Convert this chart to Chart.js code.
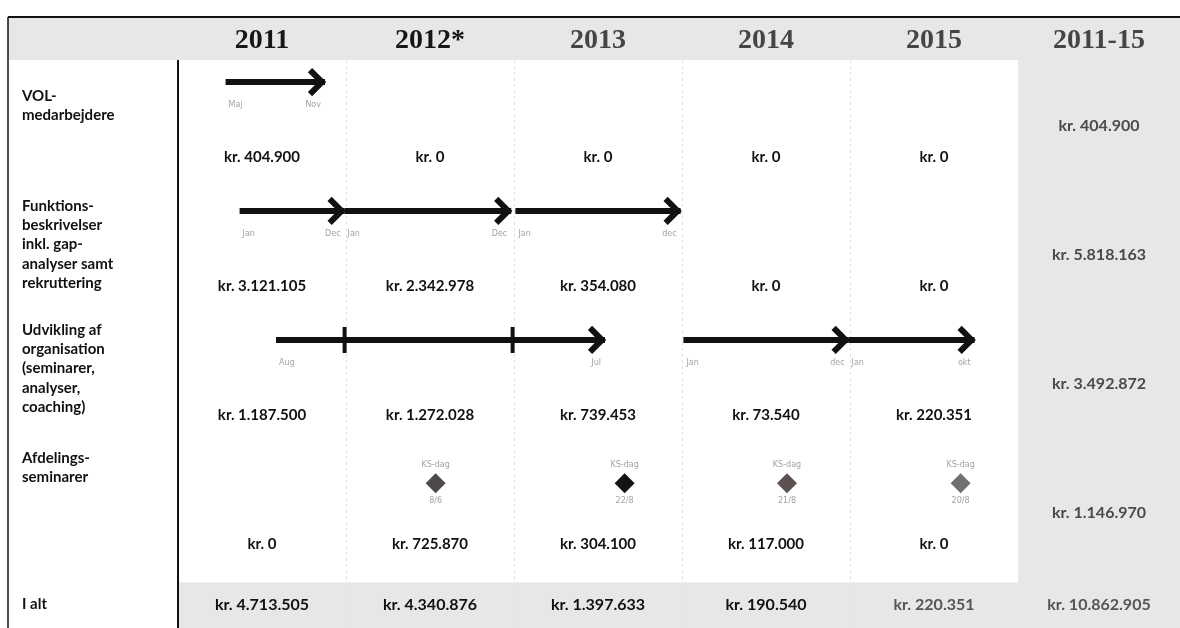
<!DOCTYPE html>
<html>
<head>
<meta charset="utf-8">
<script src="https://cdn.jsdelivr.net/npm/chart.js@4/dist/chart.umd.min.js"></script>
<style>
  body { margin: 0; background: #fff; }
  canvas { display: block; }
</style>
</head>
<body>
<canvas id="plan" width="1180" height="628"></canvas>
<script>
// Years (columns) and row headings
const years = ["2011", "2012*", "2013", "2014", "2015"];
const totalHeading = "2011-15";
const rowLabels = [
  ["VOL-", "medarbejdere"],
  ["Funktions-", "beskrivelser", "inkl. gap-", "analyser samt", "rekruttering"],
  ["Udvikling af", "organisation", "(seminarer,", "analyser,", "coaching)"],
  ["Afdelings-", "seminarer"],
];
const sumLabel = "I alt";

// Amounts per row and year (kr.)
const volAmounts = [404900, 0, 0, 0, 0];
const funkAmounts = [3121105, 2342978, 354080, 0, 0];
const udvAmounts = [1187500, 1272028, 739453, 73540, 220351];
const afdAmounts = [0, 725870, 304100, 117000, 0];
const rowTotals = [404900, 5818163, 3492872, 1146970];
const yearTotals = [4713505, 4340876, 1397633, 190540, 220351];
const grandTotal = 10862905;

// Activity arrows, in months counted from jan 2011 (0) to dec 2015 (60)
const arrowRow = [0, 1, 1, 1, 2, 2, 2];
const arrowStart = [3.4, 4.4, 11.9, 24.1, 7.0, 36.1, 47.9];
const arrowEnd = [10.5, 11.9, 23.8, 35.9, 30.5, 47.9, 56.9];
const arrowFrom = ["Maj", "Jan", "Jan", "Jan", "Aug", "Jan", "Jan"];
const arrowTo = ["Nov", "Dec", "Dec", "dec", "Jul", "dec", "okt"];
const yearMarks = [11.9, 23.9]; // marks on the long Udvikling arrow

// KS-dag seminars
const seminarMonth = [18.4, 31.9, 43.5, 55.9];
const seminarDate = ["8/6", "22/8", "21/8", "20/8"];
const seminarName = "KS-dag";
const seminarColors = ["#4f4a4a", "#141414", "#5c5252", "#707070"];

// layout (row units: 1 = one table row)
const MONTH_DY = 0.175, AMOUNT_DY = 0.58, SUM_DY = 0.34;
const DIAMOND_DY = 0.11, KS_DY = -0.03, DATE_DY = 0.25;
const HEADER_Y = -0.318, HEADER_BOTTOM = -0.17, SUM_TOP = 3.88, SUM_Y = 4.05;
const LINE_H = 0.15;
const labelTop = [0.11, -0.04, -0.08, -0.085];
const TABLE_LEFT = 8;
const GREY = "#e7e7e7";

const amountRows = [volAmounts, funkAmounts, udvAmounts, afdAmounts];

function kr(n) {
  return "kr. " + String(n).replace(/\B(?=(\d{3})+(?!\d))/g, ".");
}

const tablePlugin = {
  id: "table",
  beforeDatasetsDraw(chart) {
    const ctx = chart.ctx;
    const xs = chart.scales.x, ys = chart.scales.y;
    const W = chart.width, H = chart.height;
    const top = ys.getPixelForValue(ys.min);
    const x0 = xs.getPixelForValue(0), x1 = xs.getPixelForValue(60);
    const hb = ys.getPixelForValue(HEADER_BOTTOM);
    const st = ys.getPixelForValue(SUM_TOP);
    ctx.save();
    ctx.fillStyle = GREY;
    ctx.fillRect(TABLE_LEFT, top, W - TABLE_LEFT, hb - top); // header band
    ctx.fillRect(x1, top, W - x1, H - top); // total column
    ctx.fillRect(x0, st, W - x0, H - st); // sum row
    // faint column separators
    ctx.strokeStyle = "#e2e2e2";
    ctx.lineWidth = 1;
    ctx.setLineDash([3, 3]);
    for (let m = 12; m < 60; m += 12) {
      const x = Math.round(xs.getPixelForValue(m)) + 0.5;
      ctx.beginPath();
      ctx.moveTo(x, hb);
      ctx.lineTo(x, H);
      ctx.stroke();
    }
    ctx.setLineDash([]);
    // borders
    ctx.strokeStyle = "#111";
    ctx.lineWidth = 2;
    ctx.beginPath();
    ctx.moveTo(TABLE_LEFT, top);
    ctx.lineTo(W, top);
    ctx.stroke();
    ctx.lineWidth = 1.5;
    ctx.beginPath();
    ctx.moveTo(TABLE_LEFT, top);
    ctx.lineTo(TABLE_LEFT, H);
    ctx.stroke();
    ctx.lineWidth = 2;
    ctx.beginPath();
    ctx.moveTo(x0, hb);
    ctx.lineTo(x0, H);
    ctx.stroke();
    ctx.restore();
  },
  afterDatasetsDraw(chart) {
    const ctx = chart.ctx;
    const xs = chart.scales.x, ys = chart.scales.y;
    const W = chart.width;
    const totX = (xs.getPixelForValue(60) + W) / 2;
    const colX = (i) => xs.getPixelForValue(i * 12 + 6);
    ctx.save();
    ctx.textBaseline = "middle";

    // arrow heads
    ctx.strokeStyle = "#111";
    ctx.lineWidth = 6;
    ctx.lineJoin = "miter";
    arrowEnd.forEach((end, i) => {
      const x = xs.getPixelForValue(end), y = ys.getPixelForValue(arrowRow[i]);
      ctx.beginPath();
      ctx.moveTo(x - 15, y - 12);
      ctx.lineTo(x - 3, y);
      ctx.lineTo(x - 15, y + 12);
      ctx.stroke();
    });

    // headers
    ctx.textAlign = "center";
    ctx.font = "bold 28px 'Liberation Serif', serif";
    years.forEach((y, i) => {
      ctx.fillStyle = i < 2 ? "#161616" : "#454545";
      ctx.fillText(y, colX(i), ys.getPixelForValue(HEADER_Y));
    });
    ctx.fillStyle = "#454545";
    ctx.fillText(totalHeading, totX, ys.getPixelForValue(HEADER_Y));

    // row labels
    ctx.textAlign = "left";
    ctx.font = "bold 15px Lato, sans-serif";
    ctx.fillStyle = "#111";
    rowLabels.forEach((lines, r) => {
      lines.forEach((t, k) => {
        ctx.fillText(t, TABLE_LEFT + 14, ys.getPixelForValue(r + labelTop[r] + k * LINE_H));
      });
    });
    ctx.fillText(sumLabel, TABLE_LEFT + 14, ys.getPixelForValue(SUM_Y));

    // month labels under arrows
    ctx.font = "8px 'DejaVu Sans', sans-serif";
    ctx.fillStyle = "#a3a3a3";
    arrowStart.forEach((s, i) => {
      const y = ys.getPixelForValue(arrowRow[i] + MONTH_DY);
      ctx.textAlign = "left";
      ctx.fillText(arrowFrom[i], xs.getPixelForValue(s) + 3, y);
      ctx.textAlign = "right";
      ctx.fillText(arrowTo[i], xs.getPixelForValue(arrowEnd[i]) - 4, y);
    });

    // seminar labels
    ctx.textAlign = "center";
    seminarMonth.forEach((m, i) => {
      const x = xs.getPixelForValue(m);
      ctx.fillText(seminarName, x, ys.getPixelForValue(3 + KS_DY));
      ctx.fillText(seminarDate[i], x, ys.getPixelForValue(3 + DATE_DY));
    });

    // amounts
    ctx.font = "bold 15px Lato, sans-serif";
    ctx.fillStyle = "#111";
    amountRows.forEach((vals, r) => {
      vals.forEach((v, i) => {
        ctx.fillText(kr(v), colX(i), ys.getPixelForValue(r + AMOUNT_DY));
      });
    });
    ctx.font = "bold 16px Lato, sans-serif";
    ctx.fillStyle = "#4a4a4a";
    rowTotals.forEach((v, r) => {
      ctx.fillText(kr(v), totX, ys.getPixelForValue(r + SUM_DY));
    });
    yearTotals.forEach((v, i) => {
      ctx.fillStyle = i < 4 ? "#111" : "#555";
      ctx.fillText(kr(v), colX(i), ys.getPixelForValue(SUM_Y));
    });
    ctx.fillStyle = "#555";
    ctx.fillText(kr(grandTotal), totX, ys.getPixelForValue(SUM_Y));
    ctx.restore();
  },
};

const datasets = arrowStart.map((s, i) => ({
  data: [{ x: s, y: arrowRow[i] }, { x: arrowEnd[i], y: arrowRow[i] }],
  showLine: true,
  borderColor: "#111",
  borderWidth: 6,
  pointRadius: 0,
}));
datasets.push({
  data: yearMarks.map((m) => ({ x: m, y: 2 })),
  pointStyle: "line",
  rotation: 90,
  pointRadius: 13,
  pointBorderWidth: 4,
  borderColor: "#111",
});
datasets.push({
  data: seminarMonth.map((m) => ({ x: m, y: 3 + DIAMOND_DY })),
  pointStyle: "rectRot",
  pointRadius: 10,
  pointBorderWidth: 0,
  backgroundColor: seminarColors,
  borderColor: seminarColors,
});

new Chart(document.getElementById("plan"), {
  type: "scatter",
  data: { datasets: datasets },
  options: {
    responsive: false,
    animation: false,
    devicePixelRatio: 1,
    events: [],
    layout: { autoPadding: false, padding: { left: 178, right: 162, top: 17, bottom: 0 } },
    scales: {
      x: { type: "linear", min: 0, max: 60, display: false },
      y: { type: "linear", min: -0.504, max: 4.233, reverse: true, display: false },
    },
    plugins: { legend: { display: false }, tooltip: { enabled: false } },
    clip: false,
  },
  plugins: [tablePlugin],
});
</script>
</body>
</html>
